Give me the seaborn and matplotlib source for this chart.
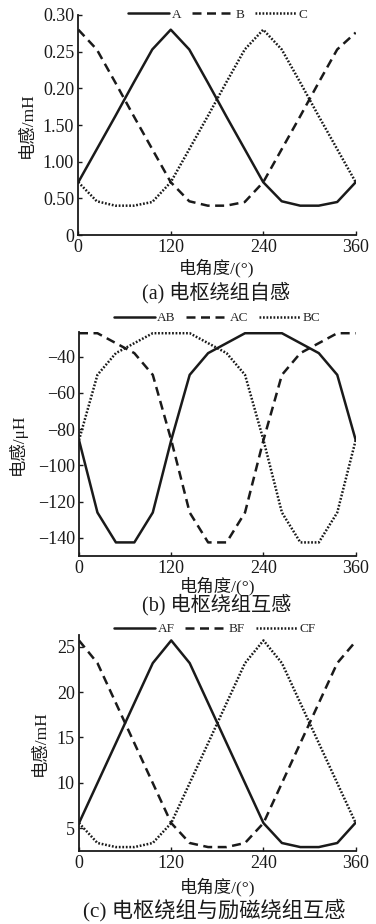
import numpy as np
import pandas as pd
import matplotlib
matplotlib.use("Agg")
import matplotlib.pyplot as plt
import seaborn as sns

# ---------------- data ----------------
angle = [0, 24, 48, 72, 96, 120, 144, 168, 192, 216, 240, 264, 288, 312, 336, 360]

# (a) self inductance
A = [0.072, 0.117, 0.162, 0.208, 0.253, 0.280, 0.253, 0.208, 0.162, 0.117, 0.072, 0.046, 0.040, 0.040, 0.045, 0.072]
B = [0.280, 0.253, 0.208, 0.162, 0.117, 0.072, 0.046, 0.040, 0.040, 0.045, 0.072, 0.117, 0.162, 0.208, 0.253, 0.276]
C = [0.072, 0.046, 0.040, 0.040, 0.045, 0.072, 0.117, 0.162, 0.208, 0.253, 0.280, 0.253, 0.208, 0.162, 0.117, 0.072]

# (b) mutual inductance between armature windings
AB = [-86, -126, -142.5, -142.5, -126, -86, -50, -38, -32.5, -27, -27, -27, -32.5, -38, -50, -86]
AC = [-27, -27, -32.5, -38, -50, -86, -126, -142.5, -142.5, -126, -86, -50, -38, -32.5, -27, -27]
BC = [-86, -50, -38, -32.5, -27, -27, -27, -32.5, -38, -50, -86, -126, -142.5, -142.5, -126, -86]

# (c) mutual inductance armature / field
AF = [5.55, 9.96, 14.37, 18.79, 23.2, 25.7, 23.2, 18.79, 14.37, 9.96, 5.55, 3.35, 2.9, 2.9, 3.35, 5.6]
BF = [25.7, 23.2, 18.79, 14.37, 9.96, 5.55, 3.35, 2.9, 2.9, 3.35, 5.55, 9.96, 14.37, 18.79, 23.2, 25.6]
CF = [5.55, 3.35, 2.9, 2.9, 3.35, 5.55, 9.96, 14.37, 18.79, 23.2, 25.7, 23.2, 18.79, 14.37, 9.96, 5.55]

xticks = [0, 120, 240, 360]
yticks_a = [0, 0.05, 0.10, 0.15, 0.20, 0.25, 0.30]
yticklabels_a = ["0", "0.50", "1.00", "1.50", "0.20", "0.25", "0.30"]
yticks_b = [-140, -120, -100, -80, -60, -40]
yticks_c = [5, 10, 15, 20, 25]

# ---------------- style ----------------
sns.set_theme(style="ticks")
plt.rcParams["font.family"] = ["Liberation Serif", "Noto Sans CJK SC"]
plt.rcParams["axes.unicode_minus"] = True

W, H = 376, 924
fig = plt.figure(figsize=(W / 100, H / 100), dpi=100)
fig.patch.set_facecolor("white")

def ax_at(left, right, top, bottom):
    return fig.add_axes([left / W, 1 - bottom / H, (right - left) / W, (bottom - top) / H])

ink = "#1a1a1a"
styles = ["-", (0, (3.6, 2.2)), (0, (0.7, 0.7))]

def draw(ax, names, series, ylim, yticks, yticklabels, ylabel, ylab_x, xlab_y, leg_xy, caption, cap_xy, cap_fs):
    for name, vals, ls in zip(names, series, styles):
        sns.lineplot(x=angle, y=vals, ax=ax, color=ink, linewidth=1.8,
                     linestyle=ls, label=name)
    ax.set_xlim(0, 360)
    ax.set_ylim(*ylim)
    ax.set_xticks(xticks)
    ax.set_yticks(yticks)
    if yticklabels is not None:
        ax.set_yticklabels(yticklabels)
    ax.tick_params(direction="in", length=3, width=1, labelsize=13, colors=ink, pad=3)
    for s in ["top", "right"]:
        ax.spines[s].set_visible(False)
    for s in ["left", "bottom"]:
        ax.spines[s].set_linewidth(1.3)
        ax.spines[s].set_color(ink)
    ax.set_facecolor("none")
    ax.set_ylabel(ylabel, fontsize=12.5, color=ink)
    ax.yaxis.set_label_coords(ylab_x, 0.5)
    ax.set_xlabel("电角度/(°)", fontsize=12.5, color=ink)
    ax.xaxis.label.set_va("center")
    ax.xaxis.set_label_coords(0.5, xlab_y)
    ax.legend(loc="center", bbox_to_anchor=(leg_xy[0] / W, 1 - leg_xy[1] / H),
              bbox_transform=fig.transFigure, ncol=3, frameon=False,
              fontsize=9.5, handlelength=3.1, handletextpad=0.2,
              columnspacing=0.8, borderpad=0, borderaxespad=0)
    fig.text(cap_xy[0] / W, 1 - cap_xy[1] / H, caption, ha="center", va="center",
             fontsize=cap_fs, color=ink)

ax1 = ax_at(78.3, 355.7, 15, 235)
draw(ax1, ["A", "B", "C"], [A, B, C], (0, 0.30), yticks_a, yticklabels_a,
     "电感/mH", -0.154, -0.15, (218, 15), "(a) 电枢绕组自感", (216, 293), 14.5)

ax2 = ax_at(79, 355.7, 332.3, 556)
draw(ax2, ["AB", "AC", "BC"], [AB, AC, BC], (-150, -26.5), yticks_b, None,
     "电感/μH", -0.19, -0.135, (217, 318), "(b) 电枢绕组互感", (217, 605), 14.5)

ax3 = ax_at(79, 355.7, 635, 850.7)
draw(ax3, ["AF", "BF", "CF"], [AF, BF, CF], (2.5, 26.3), yticks_c, None,
     "电感/mH", -0.11, -0.17, (215, 629), "(c) 电枢绕组与励磁绕组互感", (214, 910), 15.3)

fig.savefig("out.png", dpi=100, facecolor="white")
